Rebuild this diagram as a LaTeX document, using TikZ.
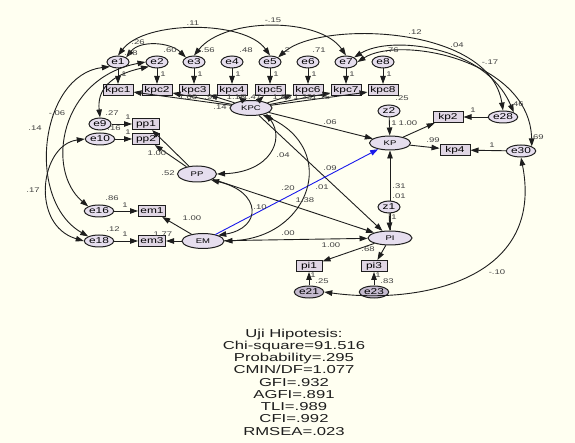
\documentclass[tikz,border=0pt]{standalone}
\usepackage{fontspec}
\setmainfont{Liberation Sans}
\newfontfamily\amosfont[FakeStretch=1.4]{Liberation Sans}
\newfontfamily\fitfont[FakeStretch=1.45]{Liberation Sans}
\usetikzlibrary{arrows.meta,shapes.geometric}
\definecolor{amosbg}{RGB}{255,255,241}
\definecolor{latfill}{RGB}{230,222,238}
\definecolor{obsfill}{RGB}{224,214,228}
\definecolor{darkfill}{RGB}{196,186,206}
\definecolor{amosline}{RGB}{30,30,30}
\definecolor{amostext}{RGB}{65,65,65}
\definecolor{amosblue}{RGB}{25,25,235}
\tikzset{
  latvar/.style={ellipse,draw=amosline,fill=latfill,line width=1pt,inner sep=0pt,minimum width=42pt,minimum height=15pt,font=\amosfont\fontsize{6.8pt}{7pt}\selectfont},
  errvar/.style={ellipse,draw=amosline,fill=latfill,line width=1pt,inner sep=.5pt,minimum width=22pt,minimum height=12pt,font=\amosfont\fontsize{8.5pt}{9pt}\selectfont},
  errdark/.style={errvar,fill=darkfill},
  obsbox/.style={rectangle,draw=amosline,fill=obsfill,line width=1pt,inner sep=0pt,minimum width=30pt,minimum height=11pt,font=\amosfont\fontsize{8.5pt}{9pt}\selectfont},
  regarr/.style={-{Triangle[length=8pt,width=5.5pt]},line width=.9pt,draw=amosline},
  covarr/.style={{Triangle[length=8pt,width=5.5pt]}-{Triangle[length=8pt,width=5.5pt]},line width=.9pt,draw=amosline},
  est/.style={inner sep=0pt,text=amostext,font=\amosfont\fontsize{6.8pt}{7pt}\selectfont},
  fitstat/.style={inner sep=0pt,align=center,text=amosline,font=\fitfont\fontsize{11.5pt}{12.25pt}\selectfont}
}

\begin{document}
\begin{tikzpicture}[x=1pt,y=-1pt]
  \fill[amosbg] (0,0) rectangle (575,443);
  \useasboundingbox (0,0) rectangle (575,443);

  % indicators of KPC
  \foreach \x [count=\i] in {118,157,194,232,270,308,346,383} {
    \node[errvar] (e\i) at (\x,62) {e\i};
    \node[obsbox] (kpc\i) at (\x,90) {kpc\i};
  }

  % latent variables
  \node[latvar] (KPC) at (251,108) {KPC};
  \node[latvar,minimum width=39pt,minimum height=16pt] (PP) at (197,174) {PP};
  \node[latvar] (EM) at (203,241) {EM};
  \node[latvar,minimum width=44pt,minimum height=14pt] (PI) at (390,238) {PI};
  \node[latvar,minimum width=41pt,minimum height=14pt] (KP) at (390,143) {KP};

  % other indicators
  \node[errvar] (e9) at (100,124) {e9};
  \node[errvar] (e10) at (100,139) {e10};
  \node[obsbox,minimum width=27pt] (pp1) at (146,124) {pp1};
  \node[obsbox,minimum width=27pt] (pp2) at (146,139) {pp2};
  \node[errvar] (e16) at (99,211) {e16};
  \node[errvar] (e18) at (99,241) {e18};
  \node[obsbox,minimum width=27pt] (em1) at (152,211) {em1};
  \node[obsbox,minimum width=27pt] (em3) at (152,241) {em3};
  \node[errvar] (z2) at (389,111) {z2};
  \node[obsbox] (kp2) at (448,117) {kp2};
  \node[obsbox] (kp4) at (455,150) {kp4};
  \node[errvar] (e28) at (503,117) {e28};
  \node[errvar] (e30) at (521,151) {e30};
  \node[obsbox,minimum width=26pt] (pi1) at (309,266) {pi1};
  \node[obsbox,minimum width=26pt] (pi3) at (374,266) {pi3};
  \node[errdark] (e21) at (309,292) {e21};
  \node[errdark] (e23) at (374,292) {e23};

  % measurement paths
  \foreach \x [count=\i] in {118,157,194,232,270,308,346,383} {
    \draw[regarr] (e\i) -- (kpc\i);
    \draw[regarr] (KPC) -- (kpc\i);
    \node[est] (w\i) at (\x+6,74) {1};
  }
  \draw[regarr] (PP) -- (pp1);
  \draw[regarr] (PP) -- (pp2);
  \draw[regarr] (e9) -- (pp1);
  \draw[regarr] (e10) -- (pp2);
  \draw[regarr] (EM) -- (em1);
  \draw[regarr] (EM) -- (em3);
  \draw[regarr] (e16) -- (em1);
  \draw[regarr] (e18) -- (em3);
  \draw[regarr] (KP) -- (kp2);
  \draw[regarr] (KP) -- (kp4);
  \draw[regarr] (e28) -- (kp2);
  \draw[regarr] (e30) -- (kp4);
  \draw[regarr] (PI) -- (pi1);
  \draw[regarr] (PI) -- (pi3);
  \draw[regarr] (e21) -- (pi1);
  \draw[regarr] (e23) -- (pi3);

  % structural paths
  \draw[regarr] (KPC) -- (KP);
  \draw[regarr] (KPC) -- (PI);
  \draw[regarr] (PP) -- (PI);
  \draw[regarr] (EM) -- (PI);
  \draw[regarr,draw=amosblue] (EM) -- (KP);
  \draw[regarr] (PI) -- (KP);
  \draw[regarr] (z2) -- (KP);
  \node[errvar] (z1) at (389,207) {z1};
  \draw[regarr] (z1) -- (PI);

  % covariances
  \draw[covarr] (KPC.south east) .. controls (285,140) and (270,172) .. (PP.east);
  \draw[covarr] (KPC.330) .. controls (340,150) and (310,238) .. (EM.east);
  \draw[covarr] (PP.south east) .. controls (262,192) and (262,228) .. (EM.north east);
  \draw[covarr] (e1.north) .. controls (145,20) and (245,20) .. (e5.north);
  \draw[covarr] (e3.north) .. controls (225,17) and (320,17) .. (e7.north);
  \draw[covarr] (e1.north east) .. controls (140,40) and (170,42) .. (e3.north west);
  \draw[covarr] (e28.north) .. controls (490,25) and (320,20) .. (e5.north east);
  \draw[covarr] (e28.north east) .. controls (485,45) and (390,35) .. (e7.north east);
  \draw[covarr] (e30.north east) .. controls (530,60) and (400,35) .. (e7.east);
  \draw[covarr] (e2.south west) .. controls (110,75) and (97,90) .. (e9.north);
  \draw[covarr] (e2.west) .. controls (60,78) and (45,170) .. (e16.north west);
  \draw[covarr] (e1.south west) .. controls (40,75) and (25,200) .. (e18.north west);
  \draw[covarr] (e10.west) .. controls (40,145) and (30,225) .. (e18.west);
  \draw[covarr] (e30.south) .. controls (545,280) and (420,305) .. (e21.east);

  % estimates
  \foreach \x/\y/\t [count=\n] in {
    131/53/.18, 170/50/.60, 208/50/.56, 246/50/.48, 286/50/.2, 319/50/.71, 392/50/.76,
    220/107/.14, 112/113/.27, 114/128/.16, 168/173/.52, 112/198/.86, 113/229/.12,
    402/98/.25, 517/104/.46, 537/137/.69, 399/196/.01, 322/281/.25, 387/281/.83,
    193/23/.11, 273/20/-.15, 415/32/.12, 457/45/.04, 490/62/-.17, 138/42/.26,
    57/113/-.06, 35/128/.14, 33/190/.17, 497/272/-.10,
    330/122/.06, 283/155/.04, 330/168/.09, 322/187/.01, 288/188/.20, 305/200/1.38,
    260/207/.10, 288/233/.00, 331/245/1.00, 368/249/.68, 399/186/.31,
    408/123/1.00, 394/123/1, 433/140/.99, 157/153/1.00, 192/218/1.00, 163/234/1.77,
    188/97/1.00, 211/97/.92, 236/97/1.18, 252/97/1.47, 282/97/1.85, 303/97/1.23, 321/97/1.15,
    128/117/1, 128/132/1, 125/205/1, 125/234/1, 394/217/1, 473/110/1, 492/145/1,
    313/275/1, 378/275/1}
    \node[est] (v\n) at (\x,\y) {\t};

  % fit indices
  \node[fitstat,anchor=north] (fit) at (294,328.5) {Uji Hipotesis:\\Chi-square=91.516\\Probability=.295\\CMIN/DF=1.077\\GFI=.932\\AGFI=.891\\TLI=.989\\CFI=.992\\RMSEA=.023};
\end{tikzpicture}
\end{document}
